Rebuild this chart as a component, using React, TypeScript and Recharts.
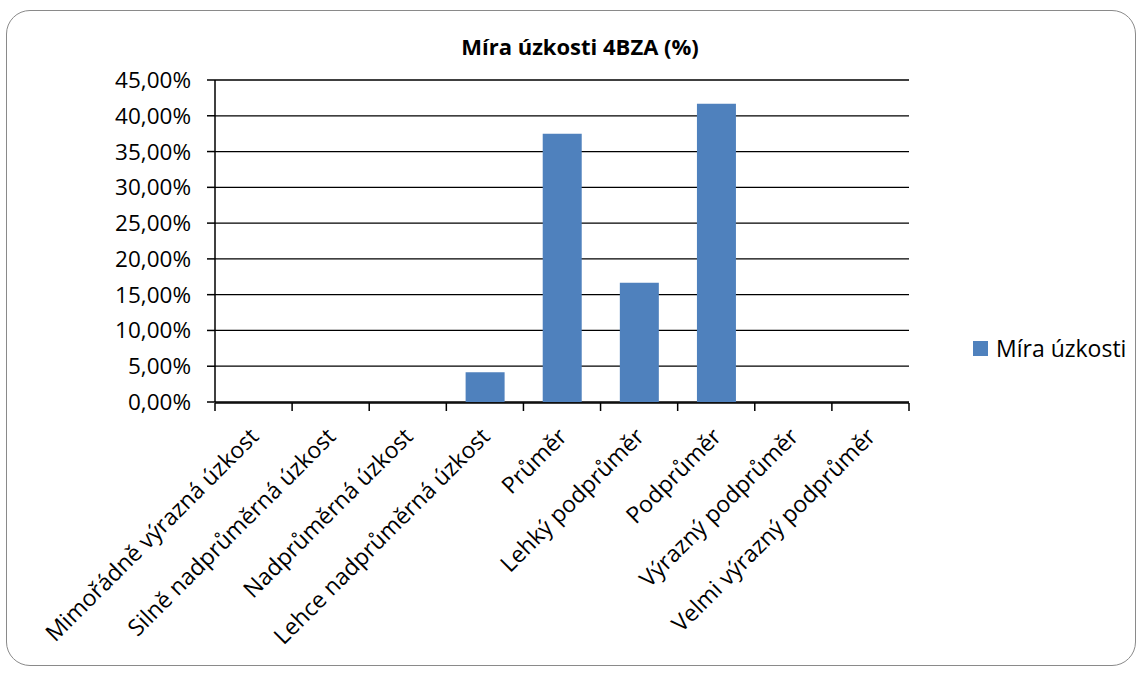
import { BarChart, Bar, XAxis, YAxis, CartesianGrid, Legend } from "recharts";

const categories = [
  "Mimořádně výrazná úzkost",
  "Silně nadprůměrná úzkost",
  "Nadprůměrná úzkost",
  "Lehce nadprůměrná úzkost",
  "Průměr",
  "Lehký podprůměr",
  "Podprůměr",
  "Výrazný podprůměr",
  "Velmi výrazný podprůměr",
];
const values = [0, 0, 0, 4.17, 37.5, 16.67, 41.67, 0, 0];
const yTicks = [0, 5, 10, 15, 20, 25, 30, 35, 40, 45];
// tick marks sit on the category boundaries, like in Excel
const edgeTicks = [0, 1, 2, 3, 4, 5, 6, 7, 8, 9];

const seriesName = "Míra úzkosti";
const title = "Míra úzkosti 4BZA (%)";

const data = categories.map((name, i) => ({ name, slot: i, value: values[i] }));

const font = "'Open Sans', sans-serif";
const barColor = "#4F81BD";

const fmtPct = (v: number) => v.toFixed(2).replace(".", ",") + "%";

const CategoryTick = ({ x, y, payload }: any) => {
  const px = x + 6.5;
  const py = y + 36;
  return (
    <text
      x={px}
      y={py}
      transform={`rotate(-45 ${px} ${py})`}
      textAnchor="end"
      fontSize={23}
      fill="#000"
      fontFamily={font}
    >
      {payload.value}
    </text>
  );
};

const LegendBox = () => (
  <div
    style={{
      display: "flex",
      alignItems: "center",
      whiteSpace: "nowrap",
      fontFamily: font,
      fontSize: 23,
      color: "#000",
    }}
  >
    <span
      style={{
        display: "inline-block",
        flexShrink: 0,
        width: 15,
        height: 15,
        background: barColor,
        marginRight: 8,
      }}
    />
    {seriesName}
  </div>
);

export default function App() {
  return (
    <div
      style={{
        position: "absolute",
        left: 0,
        top: 0,
        width: 1143,
        height: 675,
        background: "#fff",
        fontFamily: font,
      }}
    >
      <div
        style={{
          position: "absolute",
          left: 6,
          top: 10,
          width: 1130,
          height: 656,
          boxSizing: "border-box",
          border: "1.5px solid #8a8a8a",
          borderRadius: 24,
        }}
      />
      <div
        style={{
          position: "absolute",
          left: 0,
          top: 32,
          width: 1160,
          textAlign: "center",
          fontWeight: 700,
          fontSize: 22,
          lineHeight: "28px",
          color: "#000",
        }}
      >
        {title}
      </div>
      <div style={{ position: "absolute", left: 0, top: 0 }}>
        <BarChart
          width={1143}
          height={675}
          data={data}
          margin={{ top: 80, right: 234, bottom: 271, left: 115 }}
          barCategoryGap="25%"
        >
          <CartesianGrid
            xAxisId="cat"
            vertical={false}
            stroke="#000"
            strokeWidth={1.3}
          />
          <XAxis
            xAxisId="cat"
            dataKey="name"
            height={1}
            axisLine={false}
            tickLine={false}
            tickSize={0}
            tickMargin={0}
            interval={0}
            tick={<CategoryTick />}
          />
          <XAxis
            xAxisId="edge"
            dataKey="slot"
            type="number"
            domain={[0, 9]}
            ticks={edgeTicks}
            allowDataOverflow
            height={1}
            interval={0}
            axisLine={{ stroke: "#000", strokeWidth: 1.5 }}
            tickLine={{ stroke: "#000", strokeWidth: 1.5 }}
            tickSize={8}
            tick={() => <g />}
          />
          <YAxis
            width={100}
            domain={[0, 45]}
            ticks={yTicks}
            interval={0}
            tickFormatter={fmtPct}
            axisLine={{ stroke: "#000", strokeWidth: 1.5 }}
            tickLine={{ stroke: "#000", strokeWidth: 1.5 }}
            tickSize={8}
            tickMargin={16}
            tick={{ fill: "#000", fontSize: 22.5, fontFamily: font }}
          />
          <Bar
            xAxisId="cat"
            dataKey="value"
            name={seriesName}
            fill={barColor}
            isAnimationActive={false}
          />
          <Legend
            layout="vertical"
            align="right"
            verticalAlign="middle"
            content={<LegendBox />}
            wrapperStyle={{ left: 973, top: 332, width: 0 }}
          />
        </BarChart>
      </div>
    </div>
  );
}
